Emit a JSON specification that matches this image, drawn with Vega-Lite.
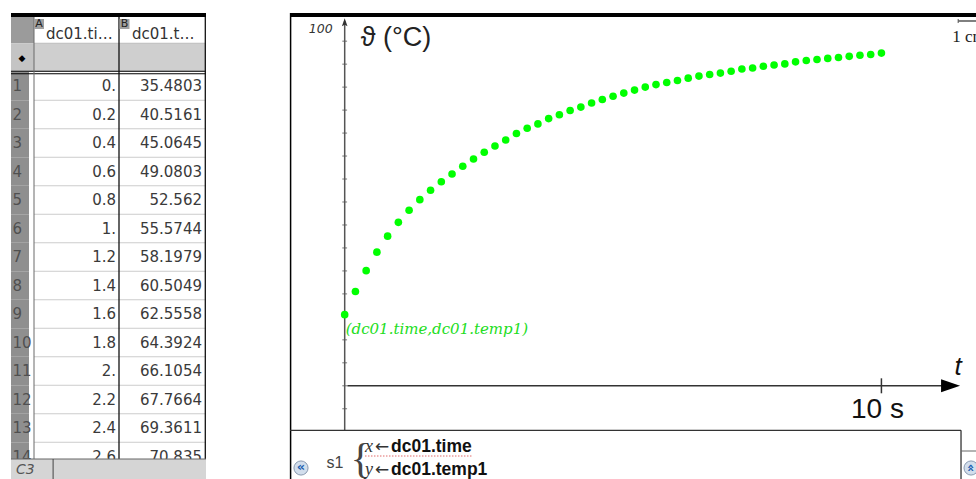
{
  "$schema": "https://vega.github.io/schema/vega-lite/v6.json",
  "padding": {"left": 10, "top": 12, "right": 0, "bottom": 0},
  "background": "white",
  "spacing": 82,
  "config": {"view": {"stroke": null}, "text": {"font": "DejaVu Sans"}},
  "datasets": {
    "dc01": [
      {"n": 1, "time": 0, "temp": 35.4803},
      {"n": 2, "time": 0.2, "temp": 40.5161},
      {"n": 3, "time": 0.4, "temp": 45.0645},
      {"n": 4, "time": 0.6, "temp": 49.0803},
      {"n": 5, "time": 0.8, "temp": 52.562},
      {"n": 6, "time": 1, "temp": 55.5744},
      {"n": 7, "time": 1.2, "temp": 58.1979},
      {"n": 8, "time": 1.4, "temp": 60.5049},
      {"n": 9, "time": 1.6, "temp": 62.5558},
      {"n": 10, "time": 1.8, "temp": 64.3924},
      {"n": 11, "time": 2, "temp": 66.1054},
      {"n": 12, "time": 2.2, "temp": 67.7664},
      {"n": 13, "time": 2.4, "temp": 69.3611},
      {"n": 14, "time": 2.6, "temp": 70.835},
      {"n": 15, "time": 2.8, "temp": 72.2},
      {"n": 16, "time": 3, "temp": 73.5},
      {"n": 17, "time": 3.2, "temp": 74.9},
      {"n": 18, "time": 3.4, "temp": 76.05},
      {"n": 19, "time": 3.6, "temp": 77.0},
      {"n": 20, "time": 3.8, "temp": 78.15},
      {"n": 21, "time": 4, "temp": 79.0},
      {"n": 22, "time": 4.2, "temp": 79.9},
      {"n": 23, "time": 4.4, "temp": 80.65},
      {"n": 24, "time": 4.6, "temp": 81.55},
      {"n": 25, "time": 4.8, "temp": 82.3},
      {"n": 26, "time": 5, "temp": 83.0},
      {"n": 27, "time": 5.2, "temp": 83.7},
      {"n": 28, "time": 5.4, "temp": 84.35},
      {"n": 29, "time": 5.6, "temp": 85.0},
      {"n": 30, "time": 5.8, "temp": 85.55},
      {"n": 31, "time": 6, "temp": 86.0},
      {"n": 32, "time": 6.2, "temp": 86.45},
      {"n": 33, "time": 6.4, "temp": 86.95},
      {"n": 34, "time": 6.6, "temp": 87.4},
      {"n": 35, "time": 6.8, "temp": 87.75},
      {"n": 36, "time": 7, "temp": 88.05},
      {"n": 37, "time": 7.2, "temp": 88.45},
      {"n": 38, "time": 7.4, "temp": 88.95},
      {"n": 39, "time": 7.6, "temp": 89.15},
      {"n": 40, "time": 7.8, "temp": 89.55},
      {"n": 41, "time": 8, "temp": 89.8},
      {"n": 42, "time": 8.2, "temp": 90.05},
      {"n": 43, "time": 8.4, "temp": 90.5},
      {"n": 44, "time": 8.6, "temp": 90.8},
      {"n": 45, "time": 8.8, "temp": 91.0},
      {"n": 46, "time": 9, "temp": 91.25},
      {"n": 47, "time": 9.2, "temp": 91.45},
      {"n": 48, "time": 9.4, "temp": 91.7},
      {"n": 49, "time": 9.6, "temp": 91.95},
      {"n": 50, "time": 9.8, "temp": 92.1},
      {"n": 51, "time": 10, "temp": 92.4}
    ],
    "yticks": [{"v": 15}, {"v": 20}, {"v": 25}, {"v": 30}, {"v": 35}, {"v": 40}, {"v": 45}, {"v": 50}, {"v": 55}, {"v": 60}, {"v": 65}, {"v": 70}, {"v": 75}, {"v": 80}, {"v": 85}, {"v": 90}, {"v": 95}],
    "one": [{}]
  },
  "hconcat": [
    {
      "width": 195,
      "height": 467,
      "layer": [
        {
          "data": {"name": "one"},
          "mark": {"type": "rect", "fill": "#9b9b9b"},
          "encoding": {
            "x": {"datum": 0, "type": "quantitative", "scale": {"domain": [0, 195], "nice": false, "zero": false}, "axis": null},
            "x2": {"datum": 23},
            "y": {"datum": -1, "type": "ordinal", "scale": {"domain": [-1, 0, 1, 2, 3, 4, 5, 6, 7, 8, 9, 10, 11, 12, 13, 14], "paddingInner": 0, "paddingOuter": 0.193, "align": 0.16}, "axis": null}
          }
        },
        {
          "data": {"name": "one"},
          "mark": {"type": "rect", "fill": "#c4c4c4"},
          "encoding": {
            "x": {"datum": 0, "type": "quantitative", "axis": null},
            "x2": {"datum": 23},
            "y": {"datum": 0, "type": "ordinal", "axis": null}
          }
        },
        {
          "data": {"name": "one"},
          "mark": {"type": "rect", "fill": "#cfcfcf"},
          "encoding": {
            "x": {"datum": 23, "type": "quantitative", "axis": null},
            "x2": {"datum": 195},
            "y": {"datum": 0, "type": "ordinal", "axis": null}
          }
        },
        {
          "data": {"name": "dc01"},
          "transform": [{"filter": "datum.n <= 14"}],
          "mark": {"type": "rect", "fill": "#8f8f8f"},
          "encoding": {
            "x": {"datum": 0, "type": "quantitative", "axis": null},
            "x2": {"datum": 18},
            "y": {"field": "n", "type": "ordinal", "axis": null}
          }
        },
        {
          "data": {"name": "dc01"},
          "transform": [{"filter": "datum.n <= 14"}],
          "mark": {"type": "rule", "color": "#cccccc", "strokeWidth": 1},
          "encoding": {
            "x": {"datum": 23, "type": "quantitative", "axis": null},
            "x2": {"datum": 195},
            "y": {"field": "n", "type": "ordinal", "bandPosition": 1, "axis": null}
          }
        },
        {
          "data": {"name": "one"},
          "mark": {"type": "rule", "color": "#bdbdbd", "strokeWidth": 1},
          "encoding": {
            "x": {"datum": 23, "type": "quantitative", "axis": null},
            "x2": {"datum": 195},
            "y": {"datum": -1, "type": "ordinal", "bandPosition": 1, "axis": null}
          }
        },
        {
          "data": {"name": "one"},
          "mark": {"type": "rule", "color": "#000000", "strokeWidth": 1.2, "yOffset": -0.5},
          "encoding": {
            "y": {"datum": 0, "type": "ordinal", "bandPosition": 1, "axis": null}
          }
        },
        {
          "data": {"name": "one"},
          "mark": {"type": "rule", "color": "#000000", "strokeWidth": 1.2, "yOffset": 2},
          "encoding": {
            "y": {"datum": 0, "type": "ordinal", "bandPosition": 1, "axis": null}
          }
        },
        {
          "data": {"name": "one"},
          "mark": {"type": "rule", "color": "#6a6a6a", "strokeWidth": 1},
          "encoding": {"x": {"datum": 23, "type": "quantitative", "axis": null}}
        },
        {
          "data": {"name": "one"},
          "mark": {"type": "rule", "color": "#111111", "strokeWidth": 1.3},
          "encoding": {"x": {"datum": 108, "type": "quantitative", "axis": null}}
        },
        {
          "data": {"name": "one"},
          "mark": {"type": "rule", "color": "#111111", "strokeWidth": 1.3},
          "encoding": {"x": {"datum": 194.3, "type": "quantitative", "axis": null}}
        },
        {
          "data": {"name": "one"},
          "mark": {"type": "point", "shape": "square", "size": 100, "filled": true, "color": "#a0a0a0", "opacity": 1, "yOffset": -5},
          "encoding": {
            "x": {"datum": 28, "type": "quantitative", "axis": null},
            "y": {"datum": -1, "type": "ordinal", "axis": null}
          }
        },
        {
          "data": {"name": "one"},
          "mark": {"type": "point", "shape": "square", "size": 100, "filled": true, "color": "#a0a0a0", "opacity": 1, "yOffset": -5},
          "encoding": {
            "x": {"datum": 113.5, "type": "quantitative", "axis": null},
            "y": {"datum": -1, "type": "ordinal", "axis": null}
          }
        },
        {
          "data": {"name": "one"},
          "mark": {"type": "text", "text": "A", "fontSize": 11, "color": "#222222", "yOffset": -5},
          "encoding": {
            "x": {"datum": 28, "type": "quantitative", "axis": null},
            "y": {"datum": -1, "type": "ordinal", "axis": null}
          }
        },
        {
          "data": {"name": "one"},
          "mark": {"type": "text", "text": "B", "fontSize": 11, "color": "#222222", "yOffset": -5},
          "encoding": {
            "x": {"datum": 113.5, "type": "quantitative", "axis": null},
            "y": {"datum": -1, "type": "ordinal", "axis": null}
          }
        },
        {
          "data": {"name": "one"},
          "mark": {"type": "text", "text": "dc01.ti…", "fontSize": 15, "color": "#333333", "align": "left", "dy": 5},
          "encoding": {
            "x": {"datum": 35, "type": "quantitative", "axis": null},
            "y": {"datum": -1, "type": "ordinal", "axis": null}
          }
        },
        {
          "data": {"name": "one"},
          "mark": {"type": "text", "text": "dc01.t…", "fontSize": 15, "color": "#333333", "align": "left", "dy": 5},
          "encoding": {
            "x": {"datum": 121, "type": "quantitative", "axis": null},
            "y": {"datum": -1, "type": "ordinal", "axis": null}
          }
        },
        {
          "data": {"name": "one"},
          "mark": {"type": "text", "text": "◆", "fontSize": 9, "color": "#000000"},
          "encoding": {
            "x": {"datum": 11, "type": "quantitative", "axis": null},
            "y": {"datum": 0, "type": "ordinal", "axis": null}
          }
        },
        {
          "data": {"name": "dc01"},
          "transform": [{"filter": "datum.n <= 14"}],
          "mark": {"type": "text", "fontSize": 15, "color": "#505050", "align": "left"},
          "encoding": {
            "x": {"datum": 1.5, "type": "quantitative", "axis": null},
            "y": {"field": "n", "type": "ordinal", "axis": null},
            "text": {"field": "n", "type": "nominal"}
          }
        },
        {
          "data": {"name": "dc01"},
          "transform": [{"filter": "datum.n <= 14"}],
          "mark": {"type": "text", "fontSize": 15, "color": "#3a3a3a", "align": "right", "text": {"expr": "datum.time % 1 === 0 ? datum.time + '.' : '' + datum.time"}},
          "encoding": {
            "x": {"datum": 105, "type": "quantitative", "axis": null},
            "y": {"field": "n", "type": "ordinal", "axis": null}
          }
        },
        {
          "data": {"name": "dc01"},
          "transform": [{"filter": "datum.n <= 14"}],
          "mark": {"type": "text", "fontSize": 15, "color": "#3a3a3a", "align": "right"},
          "encoding": {
            "x": {"datum": 191, "type": "quantitative", "axis": null},
            "y": {"field": "n", "type": "ordinal", "axis": null},
            "text": {"field": "temp", "type": "nominal"}
          }
        },
        {
          "data": {"name": "one"},
          "mark": {"type": "rect", "fill": "#d5d5d5", "yOffset": 16.75, "clip": true},
          "encoding": {
            "x": {"datum": 0, "type": "quantitative", "axis": null},
            "x2": {"datum": 195},
            "y": {"datum": 14, "type": "ordinal", "axis": null}
          }
        },
        {
          "data": {"name": "one"},
          "mark": {"type": "rule", "color": "#666666", "strokeWidth": 1, "yOffset": 16.75},
          "encoding": {
            "y": {"datum": 14, "type": "ordinal", "bandPosition": 0, "axis": null}
          }
        },
        {
          "data": {"name": "one"},
          "mark": {"type": "rect", "fill": "#444444", "yOffset": 16.75, "clip": true},
          "encoding": {
            "x": {"datum": 41.6, "type": "quantitative", "axis": null},
            "x2": {"datum": 42.6},
            "y": {"datum": 14, "type": "ordinal", "axis": null}
          }
        },
        {
          "data": {"name": "one"},
          "mark": {"type": "text", "text": "C3", "fontSize": 14, "fontStyle": "italic", "color": "#555555", "align": "left", "dy": 13.5},
          "encoding": {
            "x": {"datum": 5, "type": "quantitative", "axis": null},
            "y": {"datum": 14, "type": "ordinal", "axis": null}
          }
        },
        {
          "data": {"name": "one"},
          "mark": {"type": "rule", "color": "#000000", "strokeWidth": 4.5, "clip": true},
          "encoding": {
            "y": {"datum": -1, "type": "ordinal", "bandPosition": 0, "axis": null}
          }
        }
      ]
    },
    {
      "width": 689,
      "height": 467,
      "layer": [
        {
          "data": {"name": "yticks"},
          "mark": {"type": "rule", "color": "#777777", "strokeWidth": 1},
          "encoding": {
            "x": {"datum": -0.045, "type": "quantitative", "scale": {"domain": [-1.019, 11.818], "nice": false, "zero": false}, "axis": null},
            "x2": {"datum": 0.045},
            "y": {"field": "v", "type": "quantitative", "scale": {"domain": [-0.5, 101.13], "nice": false, "zero": false}, "axis": null}
          }
        },
        {
          "data": {"name": "one"},
          "mark": {"type": "rule", "color": "#555555", "strokeWidth": 1.5},
          "encoding": {
            "x": {"datum": 0, "type": "quantitative", "axis": null},
            "y": {"datum": 10.38, "type": "quantitative", "axis": null},
            "y2": {"datum": 99.4}
          }
        },
        {
          "data": {"name": "one"},
          "mark": {"type": "point", "shape": "M 0 -1 L -0.7 1 L 0 0.6 L 0.7 1 Z", "size": 64, "filled": true, "color": "#333333", "opacity": 1},
          "encoding": {
            "x": {"datum": 0, "type": "quantitative", "axis": null},
            "y": {"datum": 99.1, "type": "quantitative", "axis": null}
          }
        },
        {
          "data": {"name": "one"},
          "mark": {"type": "rule", "color": "#333333", "strokeWidth": 1.5},
          "encoding": {
            "x": {"datum": 0.05, "type": "quantitative", "axis": null},
            "x2": {"datum": 11.15},
            "y": {"datum": 20, "type": "quantitative", "axis": null}
          }
        },
        {
          "data": {"name": "one"},
          "mark": {"type": "point", "shape": "M -1 -0.68 L 1 0 L -1 0.68 Z", "size": 361, "filled": true, "color": "#000000", "opacity": 1},
          "encoding": {
            "x": {"datum": 11.288, "type": "quantitative", "axis": null},
            "y": {"datum": 20, "type": "quantitative", "axis": null}
          }
        },
        {
          "data": {"name": "one"},
          "mark": {"type": "rule", "color": "#333333", "strokeWidth": 1.5},
          "encoding": {
            "x": {"datum": 10, "type": "quantitative", "axis": null},
            "y": {"datum": 18.37, "type": "quantitative", "axis": null},
            "y2": {"datum": 21.63}
          }
        },
        {
          "data": {"name": "one"},
          "mark": {"type": "rule", "color": "#000000", "strokeWidth": 1.5},
          "encoding": {"x": {"datum": -1.008, "type": "quantitative", "axis": null}}
        },
        {
          "data": {"name": "one"},
          "mark": {"type": "rule", "color": "#333333", "strokeWidth": 1.3},
          "encoding": {
            "x": {"datum": -1.019, "type": "quantitative", "axis": null},
            "x2": {"datum": 11.483},
            "y": {"datum": 10.32, "type": "quantitative", "axis": null}
          }
        },
        {
          "data": {"name": "one"},
          "mark": {"type": "rule", "color": "#333333", "strokeWidth": 1.3},
          "encoding": {
            "x": {"datum": 11.483, "type": "quantitative", "axis": null},
            "y": {"datum": -0.5, "type": "quantitative", "axis": null},
            "y2": {"datum": 10.32}
          }
        },
        {
          "data": {"name": "one"},
          "mark": {"type": "rule", "color": "#666666", "strokeWidth": 1},
          "encoding": {
            "x": {"datum": 11.483, "type": "quantitative", "axis": null},
            "x2": {"datum": 11.818},
            "y": {"datum": 5.81, "type": "quantitative", "axis": null}
          }
        },
        {
          "data": {"name": "one"},
          "mark": {"type": "rule", "color": "#000000", "strokeWidth": 8, "clip": true},
          "encoding": {"y": {"datum": 101.13, "type": "quantitative", "axis": null}}
        },
        {
          "data": {"name": "dc01"},
          "mark": {"type": "circle", "size": 58, "color": "#00ff00", "opacity": 1},
          "encoding": {
            "x": {"field": "time", "type": "quantitative", "axis": null},
            "y": {"field": "temp", "type": "quantitative", "axis": null}
          }
        },
        {
          "data": {"name": "one"},
          "mark": {"type": "text", "text": "10 s", "font": "Liberation Sans", "fontSize": 28, "color": "#111111", "dx": -4, "dy": 24},
          "encoding": {
            "x": {"datum": 10, "type": "quantitative", "axis": null},
            "y": {"datum": 20, "type": "quantitative", "axis": null}
          }
        },
        {
          "data": {"name": "one"},
          "mark": {"type": "text", "text": "t", "font": "Liberation Sans", "fontStyle": "italic", "fontSize": 26, "color": "#111111", "dy": -19},
          "encoding": {
            "x": {"datum": 11.43, "type": "quantitative", "axis": null},
            "y": {"datum": 20, "type": "quantitative", "axis": null}
          }
        },
        {
          "data": {"name": "one"},
          "mark": {"type": "text", "text": "ϑ (°C)", "font": "Liberation Sans", "fontSize": 27, "color": "#222222", "align": "left", "baseline": "alphabetic", "dx": 16, "dy": 28},
          "encoding": {
            "x": {"datum": 0, "type": "quantitative", "axis": null},
            "y": {"datum": 100, "type": "quantitative", "axis": null}
          }
        },
        {
          "data": {"name": "one"},
          "mark": {"type": "text", "text": "100", "fontSize": 12.5, "fontStyle": "italic", "color": "#333333", "align": "right", "dx": -12, "dy": 11},
          "encoding": {
            "x": {"datum": 0, "type": "quantitative", "axis": null},
            "y": {"datum": 100, "type": "quantitative", "axis": null}
          }
        },
        {
          "data": {"name": "one"},
          "mark": {"type": "text", "text": "(dc01.time,dc01.temp1)", "font": "DejaVu Serif", "fontStyle": "italic", "fontSize": 15, "color": "#22dd22", "align": "left", "dx": 1, "dy": 14},
          "encoding": {
            "x": {"datum": 0, "type": "quantitative", "axis": null},
            "y": {"datum": 35.4803, "type": "quantitative", "axis": null}
          }
        },
        {
          "data": {"name": "one"},
          "mark": {"type": "text", "text": "1 cm", "font": "Liberation Serif", "fontSize": 17, "color": "#222222", "align": "left", "baseline": "alphabetic", "clip": true},
          "encoding": {
            "x": {"datum": 11.32, "type": "quantitative", "axis": null},
            "y": {"datum": 94.82, "type": "quantitative", "axis": null}
          }
        },
        {
          "data": {"name": "one"},
          "mark": {"type": "rule", "color": "#555555", "strokeWidth": 1.5, "clip": true},
          "encoding": {
            "x": {"datum": 11.43, "type": "quantitative", "axis": null},
            "x2": {"datum": 11.818},
            "y": {"datum": 99.39, "type": "quantitative", "axis": null}
          }
        },
        {
          "data": {"name": "one"},
          "mark": {"type": "rule", "color": "#555555", "strokeWidth": 1},
          "encoding": {
            "x": {"datum": 11.43, "type": "quantitative", "axis": null},
            "y": {"datum": 98.95, "type": "quantitative", "axis": null},
            "y2": {"datum": 99.83}
          }
        },
        {
          "data": {"name": "one"},
          "mark": {"type": "text", "text": "s1", "font": "Liberation Sans", "fontSize": 16, "color": "#444444"},
          "encoding": {
            "x": {"datum": -0.18, "type": "quantitative", "axis": null},
            "y": {"datum": 3.2, "type": "quantitative", "axis": null}
          }
        },
        {
          "data": {"name": "one"},
          "mark": {"type": "text", "text": "{", "font": "Liberation Serif", "fontSize": 42, "color": "#444444"},
          "encoding": {
            "x": {"datum": 0.294, "type": "quantitative", "axis": null},
            "y": {"datum": 4.07, "type": "quantitative", "axis": null}
          }
        },
        {
          "data": {"name": "one"},
          "mark": {"type": "rule", "color": "#e06a6a", "strokeWidth": 1, "strokeDash": [1.5, 1.5]},
          "encoding": {
            "x": {"datum": 0.378, "type": "quantitative", "axis": null},
            "x2": {"datum": 2.372},
            "y": {"datum": 4.72, "type": "quantitative", "axis": null}
          }
        },
        {
          "data": {"name": "one"},
          "mark": {"type": "text", "text": "x", "font": "Liberation Serif", "fontStyle": "italic", "fontSize": 18, "color": "#333333", "align": "left", "baseline": "alphabetic"},
          "encoding": {
            "x": {"datum": 0.378, "type": "quantitative", "axis": null},
            "y": {"datum": 5.59, "type": "quantitative", "axis": null}
          }
        },
        {
          "data": {"name": "one"},
          "mark": {"type": "text", "text": "y", "font": "Liberation Serif", "fontStyle": "italic", "fontSize": 18, "color": "#333333", "align": "left", "baseline": "alphabetic"},
          "encoding": {
            "x": {"datum": 0.378, "type": "quantitative", "axis": null},
            "y": {"datum": 0.59, "type": "quantitative", "axis": null}
          }
        },
        {
          "data": {"name": "one"},
          "mark": {"type": "text", "text": "←", "fontSize": 17, "color": "#333333", "align": "left", "baseline": "alphabetic"},
          "encoding": {
            "x": {"datum": 0.563, "type": "quantitative", "axis": null},
            "y": {"datum": 5.59, "type": "quantitative", "axis": null}
          }
        },
        {
          "data": {"name": "one"},
          "mark": {"type": "text", "text": "←", "fontSize": 17, "color": "#333333", "align": "left", "baseline": "alphabetic"},
          "encoding": {
            "x": {"datum": 0.563, "type": "quantitative", "axis": null},
            "y": {"datum": 0.59, "type": "quantitative", "axis": null}
          }
        },
        {
          "data": {"name": "one"},
          "mark": {"type": "text", "text": "dc01.time", "font": "Liberation Sans", "fontWeight": "bold", "fontSize": 17.5, "color": "#111111", "align": "left", "baseline": "alphabetic"},
          "encoding": {
            "x": {"datum": 0.863, "type": "quantitative", "axis": null},
            "y": {"datum": 5.59, "type": "quantitative", "axis": null}
          }
        },
        {
          "data": {"name": "one"},
          "mark": {"type": "text", "text": "dc01.temp1", "font": "Liberation Sans", "fontWeight": "bold", "fontSize": 17.5, "color": "#111111", "align": "left", "baseline": "alphabetic"},
          "encoding": {
            "x": {"datum": 0.863, "type": "quantitative", "axis": null},
            "y": {"datum": 0.59, "type": "quantitative", "axis": null}
          }
        },
        {
          "data": {"name": "one"},
          "mark": {"type": "point", "shape": "circle", "size": 200, "filled": true, "color": "#d2deec", "stroke": "#8a9ab0", "strokeWidth": 1, "opacity": 1},
          "encoding": {
            "x": {"datum": -0.814, "type": "quantitative", "axis": null},
            "y": {"datum": 2.11, "type": "quantitative", "axis": null}
          }
        },
        {
          "data": {"name": "one"},
          "mark": {"type": "text", "text": "«", "fontWeight": "bold", "fontSize": 13, "color": "#1c5fb0", "dy": -1},
          "encoding": {
            "x": {"datum": -0.814, "type": "quantitative", "axis": null},
            "y": {"datum": 2.11, "type": "quantitative", "axis": null}
          }
        },
        {
          "data": {"name": "one"},
          "mark": {"type": "point", "shape": "circle", "size": 200, "filled": true, "color": "#d2deec", "stroke": "#8a9ab0", "strokeWidth": 1, "opacity": 1},
          "encoding": {
            "x": {"datum": 11.67, "type": "quantitative", "axis": null},
            "y": {"datum": 2.11, "type": "quantitative", "axis": null}
          }
        },
        {
          "data": {"name": "one"},
          "mark": {"type": "text", "text": "«", "fontWeight": "bold", "fontSize": 13, "color": "#1c5fb0", "angle": 90},
          "encoding": {
            "x": {"datum": 11.67, "type": "quantitative", "axis": null},
            "y": {"datum": 2.11, "type": "quantitative", "axis": null}
          }
        }
      ]
    }
  ]
}
